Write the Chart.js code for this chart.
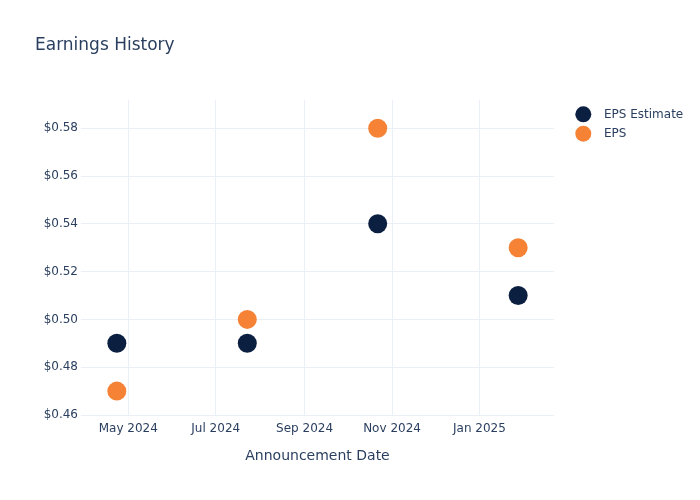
<!DOCTYPE html>
<html>
<head>
<meta charset="utf-8">
<script src="https://cdn.jsdelivr.net/npm/chart.js@4"></script>
<style>
  html, body { margin: 0; padding: 0; background: #fff; }
  #wrap { width: 700px; height: 500px; }
</style>
</head>
<body>
<div id="wrap"><canvas id="c" width="700" height="500"></canvas></div>
<script>
// ---- data ----
const announcementDates = ["2024-04-23", "2024-07-23", "2024-10-22", "2025-01-28"];
const epsEstimate = [0.49, 0.49, 0.54, 0.51];
const epsActual = [0.47, 0.50, 0.58, 0.53];
const xTickDates = ["2024-05-01", "2024-07-01", "2024-09-01", "2024-11-01", "2025-01-01"];
const xTickLabels = ["May 2024", "Jul 2024", "Sep 2024", "Nov 2024", "Jan 2025"];
const yTickValues = [0.46, 0.48, 0.50, 0.52, 0.54, 0.56, 0.58];
const seriesNames = ["EPS Estimate", "EPS"];
const xRangeDates = ["2024-03-29", "2025-02-22"];
const yRange = [0.46, 0.5918];

// ---- helpers ----
const DAY = 86400000;
function toDay(s) { const p = s.split('-').map(Number); return Date.UTC(p[0], p[1] - 1, p[2]) / DAY; }
const xTickDays = xTickDates.map(toDay);
const NAVY = '#0b1f41';
const ORANGE = '#f58235';
const TEXT = '#2a3f5f';
const GRID = '#ebf0f8';

Chart.defaults.font.family = "'DejaVu Sans', Verdana, sans-serif";
Chart.defaults.color = TEXT;

const legendPlugin = {
  id: 'customLegend',
  afterDraw(chart) {
    const ctx = chart.ctx;
    const colors = [NAVY, ORANGE];
    const ys = [114.3, 133.7];
    ctx.save();
    ctx.font = "12px 'DejaVu Sans', Verdana, sans-serif";
    ctx.textBaseline = 'middle';
    ctx.textAlign = 'left';
    seriesNames.forEach((n, i) => {
      ctx.beginPath();
      ctx.fillStyle = colors[i];
      ctx.arc(583.3, ys[i], 8, 0, Math.PI * 2);
      ctx.fill();
      ctx.fillStyle = TEXT;
      ctx.fillText(n, 604, ys[i] + 0.5);
    });
    ctx.restore();
  }
};

new Chart(document.getElementById('c'), {
  type: 'scatter',
  data: {
    datasets: [
      {
        label: seriesNames[0],
        data: announcementDates.map((d, i) => ({ x: toDay(d), y: epsEstimate[i] })),
        backgroundColor: NAVY,
        borderColor: NAVY,
        pointRadius: 9.5,
        pointHoverRadius: 9.5,
        pointBorderWidth: 0
      },
      {
        label: seriesNames[1],
        data: announcementDates.map((d, i) => ({ x: toDay(d), y: epsActual[i] })),
        backgroundColor: ORANGE,
        borderColor: ORANGE,
        pointRadius: 9.5,
        pointHoverRadius: 9.5,
        pointBorderWidth: 0
      }
    ]
  },
  options: {
    responsive: false,
    animation: false,
    devicePixelRatio: 1,
    layout: { padding: { left: 35, right: 146, top: 0, bottom: 0 } },
    plugins: {
      legend: { display: false },
      tooltip: { enabled: false },
      title: {
        display: true,
        text: 'Earnings History',
        align: 'start',
        color: TEXT,
        font: { size: 17, weight: 'normal' },
        padding: { top: 35.8, bottom: 43.8 }
      }
    },
    scales: {
      x: {
        type: 'linear',
        min: toDay(xRangeDates[0]),
        max: toDay(xRangeDates[1]),
        afterBuildTicks(scale) { scale.ticks = xTickDays.map(v => ({ value: v })); },
        afterFit(scale) { scale.height = 85; },
        ticks: {
          autoSkip: false,
          maxRotation: 0,
          padding: 7,
          color: TEXT,
          font: { size: 12 },
          callback(value) {
            const i = xTickDays.indexOf(value);
            return i >= 0 ? xTickLabels[i] : '';
          }
        },
        grid: { color: GRID, drawTicks: false, lineWidth: 1 },
        border: { display: false },
        title: {
          display: true,
          text: 'Announcement Date',
          color: TEXT,
          font: { size: 14 },
          padding: { top: 0, bottom: 35.6 }
        }
      },
      y: {
        type: 'linear',
        min: yRange[0],
        max: yRange[1],
        afterBuildTicks(scale) { scale.ticks = yTickValues.map(v => ({ value: v })); },
        afterFit(scale) { scale.width = 46; },
        ticks: {
          padding: 3,
          color: TEXT,
          font: { size: 12 },
          callback(value) { return '$' + Number(value).toFixed(2); }
        },
        grid: { color: GRID, drawTicks: false, lineWidth: 1 },
        border: { display: false }
      }
    }
  },
  plugins: [legendPlugin]
});
</script>
</body>
</html>
